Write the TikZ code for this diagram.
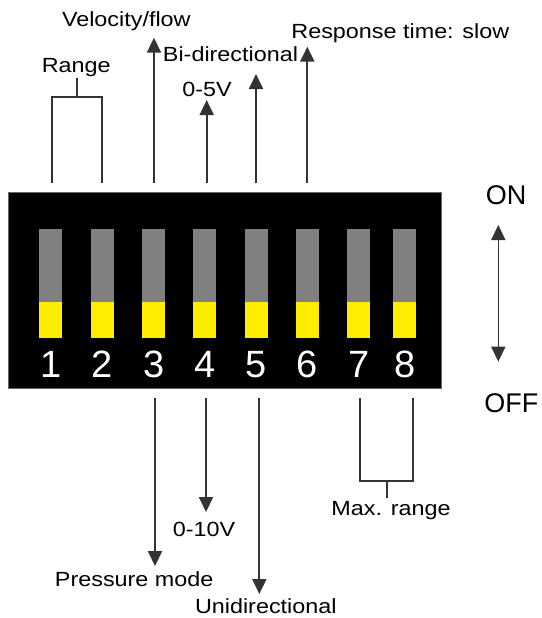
\documentclass[tikz,border=0pt]{standalone}
\usepackage{fontspec}
\setmainfont{Liberation Sans}[FakeStretch=1.14]
\newfontfamily\plainsans{Liberation Sans}
\usetikzlibrary{arrows.meta}
\definecolor{swgray}{RGB}{128,128,128}
\definecolor{swyellow}{RGB}{255,237,0}
\definecolor{arrowgray}{RGB}{51,51,51}
\begin{document}
\begin{tikzpicture}[x=1pt,y=-1pt,
  lbl/.style={inner sep=0pt, anchor=base, font=\fontsize{20.5}{24}\selectfont},
  bigl/.style={inner sep=0pt, anchor=base, font=\plainsans\fontsize{27}{30}\selectfont},
  digit/.style={inner sep=0pt, anchor=base, text=white, font=\plainsans\fontsize{38}{40}\selectfont},
  arr/.style={draw=arrowgray, line width=2pt, -{Triangle[width=14pt,length=15pt]}},
  dblarr/.style={draw=arrowgray, line width=1.6pt, {Triangle[width=14pt,length=15pt]}-{Triangle[width=14pt,length=15pt]}},
  brk/.style={draw=arrowgray, line width=2pt, line join=miter},
  body/.style={fill=black, draw=black!60, line width=0.5pt}]
\useasboundingbox (0,0) rectangle (541,618);

% switch body
\path[body] (8.3,192.5) rectangle (441.7,388.3);
\coordinate (boxnw) at (8.3,192.5);

% switches
\foreach \x [count=\i] in {50.8,102,153.7,204.7,256.2,307.2,358.7,404.7}{
  \fill[swgray] (\x-11.5,229.3) rectangle (\x+11.5,302.3);
  \fill[swyellow] (\x-11.5,302.3) rectangle (\x+11.5,338.3);
  \node[digit] (n\i) at (\x,377) {\i};
}

% top labels
\node[lbl] (range) at (76.2,72.7) {Range};
\node[lbl] (velo) at (126.3,26.7) {Velocity/flow};
\node[lbl] (bidir) at (230.5,61.7) {Bi-directional};
\node[lbl] (fivev) at (207,96) {0-5V};
\node[lbl] (resp) at (400.3,38.3) {Response time: slow};

% bottom labels
\node[lbl] (tenv) at (204,536.7) {0-10V};
\node[lbl] (maxr) at (391,515.7) {Max. range};
\node[lbl] (press) at (134.2,586) {Pressure mode};
\node[lbl] (unid) at (265.8,613.3) {Unidirectional};

% ON / OFF
\node[bigl] (on) at (506,204.3) {ON};
\node[bigl] (off) at (511.3,412.7) {OFF};

% coordinates for connectors
\coordinate (t1) at (51.7,183.3);
\coordinate (t2) at (101.7,183.3);
\coordinate (tb) at (76.7,96.7);
\coordinate (ts) at (76.7,77.7);
\coordinate (t3) at (154,183.3);
\coordinate (a3) at (154,37.7);
\coordinate (t4) at (206.7,183.3);
\coordinate (a4) at (206.7,100);
\coordinate (t5) at (256,183.3);
\coordinate (a5) at (256,74);
\coordinate (t6) at (307.3,183.3);
\coordinate (a6) at (307.3,46.7);

\coordinate (b3) at (155,398);
\coordinate (c3) at (155,566);
\coordinate (b4) at (206,398);
\coordinate (c4) at (206,512);
\coordinate (b5) at (259.3,398);
\coordinate (c5) at (259.3,594);
\coordinate (b7) at (360,398);
\coordinate (b8) at (413,398);
\coordinate (bb) at (387,481);
\coordinate (bs) at (387,498);

\coordinate (onoff1) at (498.3,225);
\coordinate (onoff2) at (498.3,361.7);

% top bracket (Range)
\draw[brk] (t1) |- (tb) -| (t2);
\draw[brk] (tb) -- (ts);
% top arrows
\draw[arr] (t3) -- (a3);
\draw[arr] (t4) -- (a4);
\draw[arr] (t5) -- (a5);
\draw[arr] (t6) -- (a6);

% bottom arrows
\draw[arr] (b3) -- (c3);
\draw[arr] (b4) -- (c4);
\draw[arr] (b5) -- (c5);
% bottom bracket (Max. range)
\draw[brk] (b7) |- (bb) -| (b8);
\draw[brk] (bb) -- (bs);

% ON/OFF double arrow
\draw[dblarr] (onoff1) -- (onoff2);
\end{tikzpicture}
\end{document}
